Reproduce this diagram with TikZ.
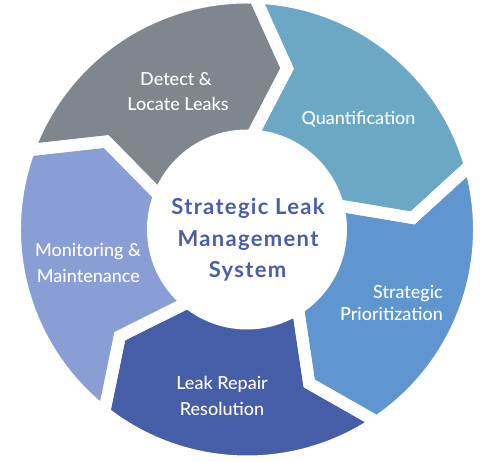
\documentclass[tikz,border=0pt]{standalone}
\usepackage{fontspec}
\setmainfont{Lato}
\newfontfamily\segfont{Lato Medium}
\definecolor{cgray}{HTML}{80868E}
\definecolor{cteal}{HTML}{6AA8C6}
\definecolor{cblue}{HTML}{6096D0}
\definecolor{cdark}{HTML}{465EA8}
\definecolor{cpurple}{HTML}{8A9ED6}
\definecolor{ctext}{HTML}{4A5EA8}
\begin{document}
\begin{tikzpicture}[x=1pt,y=1pt,
  segtext/.style={text=white,font=\segfont\fontsize{18}{20}\selectfont,inner sep=0pt},
  midtext/.style={text=ctext,font=\fontsize{22}{26}\selectfont\bfseries\addfontfeature{LetterSpace=6},inner sep=0pt}]
\useasboundingbox (0,0) rectangle (480,462);
\begin{scope}[shift={(247,232.5)}]
  \foreach \s/\col in {160/cgray,88/cteal,16/cblue,-56/cdark,-128/cpurple}{
    \pgfmathsetmacro\e{\s-72}
    \pgfmathsetmacro\tip{\e-12}
    \pgfmathsetmacro\notch{\s-12}
    \fill[\col] (\s:232) arc[start angle=\s,end angle=\e,radius=232]
      -- (\tip:166) -- (\e:90) arc[start angle=\e,end angle=\s,radius=90]
      -- (\notch:166) -- cycle;
  }
  \foreach \s in {160,88,16,-56,-128}{
    \pgfmathsetmacro\e{\s-72}
    \pgfmathsetmacro\tip{\e-12}
    \pgfmathsetmacro\notch{\s-12}
    \draw[white,line width=12pt,line join=miter] (\s:232) arc[start angle=\s,end angle=\e,radius=232]
      -- (\tip:166) -- (\e:90) arc[start angle=\e,end angle=\s,radius=90]
      -- (\notch:166) -- cycle;
  }
  \fill[white] (0,0) circle[radius=100];
\end{scope}
% segment labels (baseline y = 462 - image y)
\node[segtext,anchor=base] (d1) at (176,376) {Detect \&};
\node[segtext,anchor=base] (d2) at (178,351) {Locate Leaks};
\node[segtext,anchor=base] (q1) at (358.5,337) {Quantification};
\node[segtext,anchor=base east] (p1) at (443,163) {Strategic};
\node[segtext,anchor=base east] (p2) at (443,141) {Prioritization};
\node[segtext,anchor=base] (r1) at (222,72) {Leak Repair};
\node[segtext,anchor=base] (r2) at (222,46.5) {Resolution};
\node[segtext,anchor=base] (m1) at (88,205) {Monitoring \&};
\node[segtext,anchor=base] (m2) at (88.4,179.5) {Maintenance};
% center
\node[midtext,anchor=base] (c1) at (248,247) {Strategic Leak};
\node[midtext,anchor=base] (c2) at (248,215.3) {Management};
\node[midtext,anchor=base] (c3) at (247.5,184) {System};
\end{tikzpicture}
\end{document}
